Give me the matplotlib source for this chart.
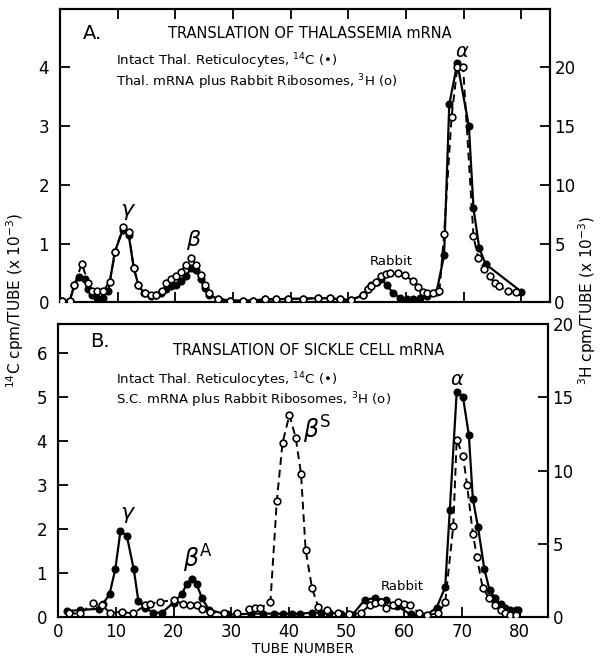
import matplotlib
matplotlib.use("Agg")
import matplotlib.pyplot as plt

plt.rcParams['font.family'] = ['DejaVu Sans']
plt.rcParams['mathtext.fontset'] = 'dejavusans'

# ---- Panel A: thalassemia mRNA ----
a_c14_x = [0.3, 1.7, 2.5, 3.3, 4.3, 4.9, 5.5, 6.5, 7.5, 8.4, 9.5, 10.9, 11.9, 12.8, 13.6,
           14.6, 15.7, 16.6, 17.5, 18.4, 19.3, 20.1, 20.9, 21.8, 22.8, 23.6, 24.4, 25.1,
           25.8, 27.4, 29.4, 31.7, 33.5, 35.5, 37.5, 39.5, 42.1, 44.7, 46.8, 48.5, 50.5,
           52.5, 53.4, 54.0, 54.9, 55.7, 56.7, 57.8, 59.0, 60.1, 61.2, 62.4, 63.7, 65.3,
           66.6, 67.5, 68.9, 70.9, 71.7, 72.7, 73.8, 80.0]
a_c14_y = [0.03, 0.03, 0.29, 0.43, 0.40, 0.23, 0.12, 0.08, 0.08, 0.20, 0.86, 1.23, 1.15,
           0.58, 0.29, 0.15, 0.10, 0.12, 0.16, 0.22, 0.27, 0.30, 0.36, 0.45, 0.58, 0.55,
           0.40, 0.25, 0.12, 0.06, 0.03, 0.03, 0.03, 0.05, 0.05, 0.06, 0.06, 0.07, 0.07,
           0.05, 0.04, 0.12, 0.23, 0.30, 0.35, 0.40, 0.29, 0.15, 0.08, 0.06, 0.06, 0.07,
           0.10, 0.18, 0.80, 3.37, 4.07, 3.00, 1.60, 0.92, 0.65, 0.18]

a_h3_x = [0.3, 1.7, 2.5, 3.8, 4.9, 5.5, 6.5, 7.5, 8.6, 9.6, 10.9, 11.9, 12.8, 13.6, 14.7,
          15.8, 16.7, 17.6, 18.4, 19.3, 20.1, 20.9, 21.8, 22.8, 23.6, 24.4, 25.1, 25.8,
          27.4, 29.4, 31.7, 33.5, 35.5, 37.5, 39.5, 42.1, 44.7, 46.8, 48.5, 50.5, 52.5,
          53.4, 54.0, 54.8, 55.7, 56.5, 57.3, 58.6, 59.8, 61.2, 62.1, 62.9, 63.7, 64.7,
          65.8, 66.6, 67.9, 68.9, 69.9, 71.7, 72.5, 73.6, 74.5, 75.5, 76.2, 77.6, 79.0]
a_h3_y = [0.15, 0.15, 1.5, 3.3, 1.6, 0.95, 0.95, 0.95, 1.75, 4.3, 6.45, 6.0, 2.9, 1.45,
          0.75, 0.6, 0.6, 1.0, 1.6, 1.95, 2.25, 2.6, 3.15, 3.8, 3.15, 2.3, 1.5, 0.75, 0.3,
          0.15, 0.15, 0.15, 0.25, 0.25, 0.3, 0.3, 0.35, 0.35, 0.25, 0.2, 0.6, 1.1, 1.4,
          1.7, 2.2, 2.4, 2.5, 2.5, 2.3, 1.8, 1.3, 0.9, 0.75, 0.75, 1.0, 5.8, 15.8, 20.0,
          20.0, 5.6, 3.8, 2.8, 2.2, 1.6, 1.35, 1.0, 0.9]

# ---- Panel B: sickle cell mRNA ----
b_c14_x = [1.5, 3.8, 7.0, 7.7, 8.9, 9.9, 10.8, 11.9, 13.1, 13.9, 15.1, 16.5, 18.0, 20.0,
           21.4, 22.3, 23.2, 24.0, 24.9, 26.1, 29.2, 31.0, 33.5, 35.5, 37.5, 39.0, 40.5,
           42.0, 44.0, 45.5, 47.0, 49.0, 51.0, 53.2, 55.0, 56.9, 58.8, 61.1, 63.5, 65.6,
           67.1, 67.9, 69.1, 70.2, 71.2, 71.9, 72.8, 73.9, 74.8, 75.8, 76.7, 77.5, 78.4,
           79.4, 79.8]
b_c14_y = [0.14, 0.16, 0.19, 0.29, 0.52, 1.09, 1.96, 1.85, 1.09, 0.37, 0.21, 0.10, 0.10,
           0.33, 0.52, 0.75, 0.86, 0.75, 0.44, 0.17, 0.06, 0.06, 0.08, 0.08, 0.08, 0.08,
           0.08, 0.08, 0.10, 0.10, 0.10, 0.08, 0.05, 0.40, 0.43, 0.38, 0.25, 0.06, 0.02,
           0.21, 0.68, 2.43, 5.12, 5.00, 4.15, 2.69, 2.04, 1.09, 0.61, 0.43, 0.29, 0.21,
           0.17, 0.16, 0.17]

b_h3_x = [1.8, 3.8, 6.1, 7.6, 9.0, 11.0, 13.0, 15.1, 15.9, 17.7, 20.0, 21.7, 22.8, 24.0,
          24.9, 26.4, 28.7, 31.0, 33.0, 34.2, 35.0, 36.8, 37.9, 38.9, 40.1, 41.2, 42.1,
          42.9, 44.0, 45.1, 46.6, 48.5, 50.5, 52.5, 54.0, 55.0, 56.0, 56.9, 58.0, 59.0,
          60.0, 61.0, 62.5, 64.0, 65.9, 67.1, 68.5, 69.1, 70.2, 70.9, 71.9, 72.6, 73.6,
          74.7, 75.7, 76.7, 77.5, 78.4, 79.4]
b_h3_y = [0.25, 0.25, 0.94, 0.8, 0.3, 0.35, 0.25, 0.8, 0.9, 1.05, 1.15, 0.9, 0.8, 0.8,
          0.55, 0.35, 0.25, 0.25, 0.55, 0.6, 0.6, 1.05, 7.9, 11.9, 13.8, 12.2, 9.8, 4.6,
          2.0, 0.7, 0.5, 0.3, 0.2, 0.3, 0.8, 0.94, 1.0, 0.6, 0.8, 1.05, 0.9, 0.8, 0.3,
          0.15, 0.25, 1.0, 6.2, 12.1, 11.0, 9.0, 5.7, 4.1, 2.0, 1.3, 0.82, 0.5, 0.25,
          0.15, 0.15]

x_ticks = [0, 10, 20, 30, 40, 50, 60, 70, 80]


def style_axes(ax):
    for s in ax.spines.values():
        s.set_linewidth(1.5)
    ax.tick_params(direction='in', length=7, width=1.3, labelsize=12)


def draw_panel(ax, c14x, c14y, h3x, h3y, left_max, right_max, left_ticks, right_ticks):
    ax2 = ax.twinx()
    ax.plot(c14x, c14y, '-', color='black', lw=1.6, marker='o', ms=4.8,
            mfc='black', mec='black', zorder=3)
    ax2.plot(h3x, h3y, color='black', lw=1.4, ls=(0, (4, 2.5)), marker='o', ms=4.8,
             mfc='white', mec='black', mew=1.2, zorder=4)
    ax.set_xlim(0, 85)
    ax.set_ylim(0, left_max)
    ax2.set_ylim(0, right_max)
    ax.set_yticks(left_ticks)
    ax2.set_yticks(right_ticks)
    ax.set_xticks(x_ticks)
    style_axes(ax)
    style_axes(ax2)
    ax.tick_params(axis='y', pad=8)
    ax2.tick_params(axis='y', pad=3)
    return ax2


fig = plt.figure(figsize=(6, 6.6), dpi=100)

axA = fig.add_axes([0.100, 0.542, 0.817, 0.445])
axA2 = draw_panel(axA, a_c14_x, a_c14_y, a_h3_x, a_h3_y, 5, 25,
                  [0, 1, 2, 3, 4], [0, 5, 10, 15, 20])
axA.tick_params(axis='x', top=True, bottom=True, labelbottom=False)

axB = fig.add_axes([0.097, 0.065, 0.817, 0.444])
axB2 = draw_panel(axB, b_c14_x, b_c14_y, b_h3_x, b_h3_y, 20 / 3, 20,
                  [0, 1, 2, 3, 4, 5, 6], [0, 5, 10, 15, 20])
axB.tick_params(axis='x', bottom=True, top=False, pad=4)
axB.set_xlabel('TUBE NUMBER', fontsize=10, labelpad=1)

# panel A text
axA.text(0.047, 0.915, 'A.', transform=axA.transAxes, fontsize=14, va='center')
axA.text(0.51, 0.915, 'TRANSLATION OF THALASSEMIA mRNA', transform=axA.transAxes,
         fontsize=10.5, ha='center', va='center')
axA.text(0.114, 0.820, r'Intact Thal. Reticulocytes, $^{14}$C (•)',
         transform=axA.transAxes, fontsize=9.5, va='center')
axA.text(0.114, 0.750, r'Thal. mRNA plus Rabbit Ribosomes, $^{3}$H (o)',
         transform=axA.transAxes, fontsize=9.5, va='center')
axA.text(11.6, 1.57, 'γ', fontsize=16, style='italic', ha='center', va='center')
axA.text(23.0, 1.06, 'β', fontsize=16, style='italic', ha='center', va='center')
axA.text(57.5, 0.70, 'Rabbit', fontsize=9.5, ha='center', va='center')
axA.text(69.6, 4.27, 'α', fontsize=14, style='italic', ha='center', va='center')

# panel B text
axB.text(0.065, 0.94, 'B.', transform=axB.transAxes, fontsize=14, va='center')
axB.text(0.51, 0.91, 'TRANSLATION OF SICKLE CELL mRNA', transform=axB.transAxes,
         fontsize=10.5, ha='center', va='center')
axB.text(0.118, 0.807, r'Intact Thal. Reticulocytes, $^{14}$C (•)',
         transform=axB.transAxes, fontsize=9.5, va='center')
axB.text(0.118, 0.740, r'S.C. mRNA plus Rabbit Ribosomes, $^{3}$H (o)',
         transform=axB.transAxes, fontsize=9.5, va='center')
axB.text(12.0, 2.37, 'γ', fontsize=16, style='italic', ha='center', va='center')
axB.text(24.3, 1.32, r'$\beta^{\mathrm{A}}$', fontsize=17, ha='center', va='center')
axB.text(44.9, 4.25, r'$\beta^{\mathrm{S}}$', fontsize=17, ha='center', va='center')
axB.text(59.6, 0.70, 'Rabbit', fontsize=9.5, ha='center', va='center')
axB.text(69.2, 5.4, 'α', fontsize=14, style='italic', ha='center', va='center')

fig.text(0.025, 0.545, r'$^{14}$C cpm/TUBE (x 10$^{-3}$)', rotation=90,
         ha='center', va='center', fontsize=11)
fig.text(0.978, 0.545, r'$^{3}$H cpm/TUBE (x 10$^{-3}$)', rotation=90,
         ha='center', va='center', fontsize=11)

fig.savefig('out.png', dpi=100)
